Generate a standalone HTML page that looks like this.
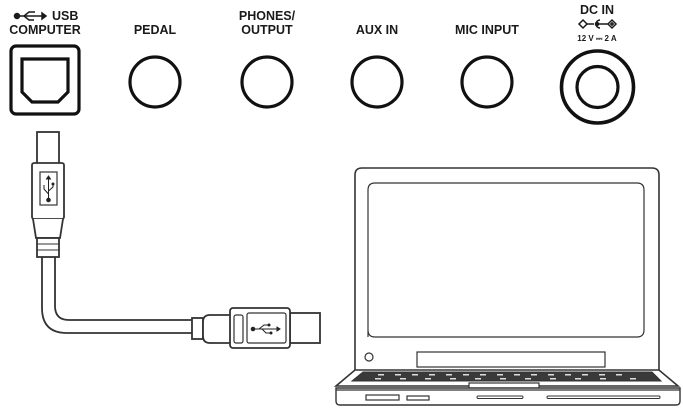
<!DOCTYPE html>
<html><head><meta charset="utf-8"><style>
body{margin:0;background:#fff}
svg{display:block}
text{font-family:"Liberation Sans",sans-serif;font-weight:bold;fill:#1a1a1a}
</style></head><body>
<svg width="683" height="411" viewBox="0 0 683 411" xmlns="http://www.w3.org/2000/svg">
<g font-size="12.5" text-anchor="middle">
<text x="52" y="20" text-anchor="start">USB</text>
<text x="45" y="34">COMPUTER</text>
<text x="155" y="34">PEDAL</text>
<text x="267" y="20">PHONES/</text>
<text x="267" y="34">OUTPUT</text>
<text x="377" y="34">AUX IN</text>
<text x="487" y="34">MIC INPUT</text>
<text x="597" y="14">DC IN</text>
<text x="597" y="41" font-size="8">12 V ⎓ 2 A</text>
</g>
<g stroke="#1a1a1a" stroke-width="1.5" fill="#1a1a1a">
<circle cx="17" cy="16" r="2.5"/>
<line x1="17" y1="16" x2="42" y2="16"/>
<polyline points="24,16 29,12 35,12" fill="none"/>
<polyline points="24,16 29,20 34,20" fill="none"/>
<polygon points="42,13 46,16 42,19"/>
</g>
<g stroke="#1a1a1a" stroke-width="1.5" fill="none">
<polygon points="583,20 587,24 583,28 579,24"/>
<line x1="587" y1="24" x2="594" y2="24"/>
<path d="M600,20 a4,4 0 1,0 0,8"/>
<circle cx="597" cy="24" r="1.5" fill="#1a1a1a"/>
<line x1="597" y1="24" x2="608" y2="24"/>
<polygon points="612,20 616,24 612,28 608,24"/>
<line x1="610" y1="24" x2="614" y2="24"/><line x1="612" y1="22" x2="612" y2="26"/>
</g>
<g stroke="#111" stroke-width="3.2" fill="none">
<rect x="11" y="46" width="68" height="68" rx="5"/>
<path d="M22,59 H68 V92 L58,102 H32 L22,92 Z"/>
<circle cx="155" cy="82" r="25"/>
<circle cx="267" cy="82" r="25"/>
<circle cx="377" cy="82" r="25"/>
<circle cx="487" cy="82" r="25"/>
<circle cx="597.5" cy="87" r="36" stroke-width="3.6"/>
<circle cx="597.5" cy="87" r="20.5"/>
</g>
<g stroke="#333" stroke-width="1.8" fill="#fff">
<path d="M42,256 V308 Q42,333 67,333 H194" fill="none"/>
<path d="M55,256 V306 Q55,320 69,320 H194" fill="none"/>
<rect x="37" y="132" width="22" height="32"/>
<rect x="32" y="163" width="32" height="56" rx="2"/>
<rect x="40" y="172" width="17" height="33" stroke-width="1.2"/>
<path d="M33,219 L36,238 H60 L63,219"/>
<rect x="37" y="238" width="22" height="19"/>
<line x1="37" y1="244" x2="59" y2="244" stroke-width="1"/>
<line x1="37" y1="250" x2="59" y2="250" stroke-width="1"/>
<rect x="192" y="318" width="11" height="21"/>
<path d="M230,315 H210 Q203,315 203,322 V336 Q203,343 210,343 H230"/>
<rect x="290" y="313" width="30" height="30"/>
<rect x="230" y="308" width="60" height="40" rx="3"/>
<rect x="234" y="315" width="9" height="28" rx="2" stroke-width="1.2"/>
<rect x="247" y="313" width="39" height="30" rx="2" stroke-width="1.2"/>
</g>
<g stroke="#222" stroke-width="1" fill="#222">
<circle cx="48.5" cy="200" r="1.8"/>
<line x1="48.5" y1="200" x2="48.5" y2="177"/>
<polygon points="46.5,179 48.5,176 50.5,179"/>
<polyline points="48.5,194 44,189 44,185" fill="none"/>
<polyline points="48.5,191 53,187 53,184" fill="none"/>
<circle cx="53" cy="184" r="1"/>
<circle cx="253" cy="329" r="1.8"/>
<line x1="253" y1="329" x2="279" y2="329"/>
<polygon points="277,327 280,329 277,331"/>
<polyline points="259,329 264,325 268,325" fill="none"/>
<polyline points="262,329 266,333 270,333" fill="none"/>
<circle cx="269" cy="325" r="1"/>
<circle cx="271" cy="333" r="1"/>
</g>
<g stroke="#333" stroke-width="1.6" fill="#fff">
<path d="M355,372 V175 Q355,168 362,168 H652 Q659,168 659,175 V372"/>
<path d="M368,337 V190 Q368,183 375,183 H637 Q644,183 644,190 V330 Q644,337 637,337 H375 Q368,337 368,330 Z" stroke-width="1.2"/>
<circle cx="369" cy="357" r="4" stroke-width="1.2"/>
<rect x="417" y="352" width="188" height="15" stroke-width="1.2"/>
<path d="M355,370 H659 L678,386 H336 Z"/>
<path d="M363,372 H652 L661,381 H352 Z" fill="#3a3a3a" stroke-width="1"/>
<rect x="469" y="383" width="70" height="6" stroke-width="1.2"/>
<path d="M336,388 H680 V401 Q680,405 676,405 H340 Q336,405 336,401 Z" stroke-width="1.4"/>
<line x1="336" y1="390" x2="680" y2="390" stroke-width="1.2"/>
<rect x="366" y="395" width="33" height="5" stroke-width="1.2"/>
<rect x="407" y="396" width="22" height="4" stroke-width="1.2"/>
<rect x="477" y="396" width="46" height="2.5" rx="1.2" stroke-width="1"/>
<rect x="547" y="396" width="113" height="2.5" rx="1.2" stroke-width="1"/>
</g>
<g fill="#ddd">
<rect x="378" y="374" width="6" height="1.5"/><rect x="395" y="374" width="6" height="1.5"/><rect x="412" y="374" width="6" height="1.5"/><rect x="429" y="374" width="6" height="1.5"/><rect x="446" y="374" width="6" height="1.5"/><rect x="463" y="374" width="6" height="1.5"/><rect x="480" y="374" width="6" height="1.5"/><rect x="497" y="374" width="6" height="1.5"/><rect x="514" y="374" width="6" height="1.5"/><rect x="531" y="374" width="6" height="1.5"/><rect x="548" y="374" width="6" height="1.5"/><rect x="565" y="374" width="6" height="1.5"/><rect x="582" y="374" width="6" height="1.5"/><rect x="599" y="374" width="6" height="1.5"/><rect x="616" y="374" width="6" height="1.5"/>
<rect x="375" y="378" width="6" height="1.5"/><rect x="400" y="378" width="6" height="1.5"/><rect x="425" y="378" width="6" height="1.5"/><rect x="450" y="378" width="6" height="1.5"/><rect x="475" y="378" width="6" height="1.5"/><rect x="500" y="378" width="6" height="1.5"/><rect x="525" y="378" width="6" height="1.5"/><rect x="550" y="378" width="6" height="1.5"/><rect x="575" y="378" width="6" height="1.5"/><rect x="600" y="378" width="6" height="1.5"/><rect x="630" y="378" width="6" height="1.5"/>
</g>
</svg>
</body></html>
